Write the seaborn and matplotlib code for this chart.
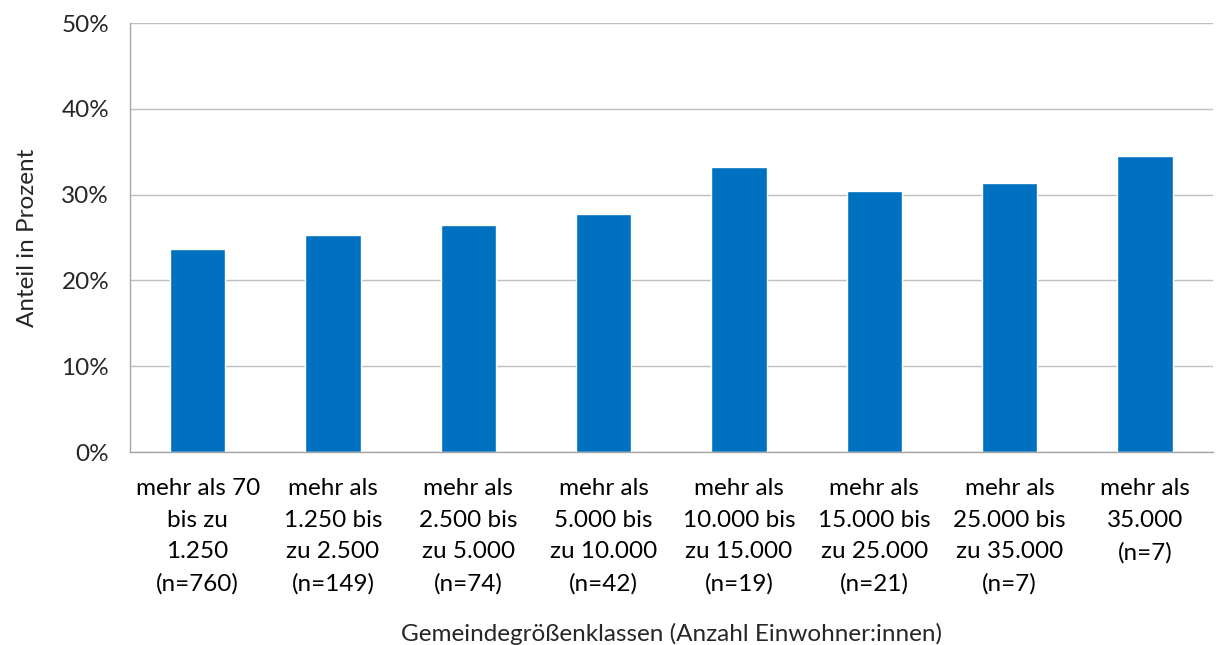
import pandas as pd
import numpy as np
import matplotlib.pyplot as plt
import seaborn as sns
from matplotlib.ticker import PercentFormatter, FixedLocator

sns.set_theme(style="white")
plt.rcParams["font.family"] = ["Lato", "DejaVu Sans"]

# Daten
klassen = [
    "mehr als 70\nbis zu\n1.250\n(n=760)",
    "mehr als\n1.250 bis\nzu 2.500\n(n=149)",
    "mehr als\n2.500 bis\nzu 5.000\n(n=74)",
    "mehr als\n5.000 bis\nzu 10.000\n(n=42)",
    "mehr als\n10.000 bis\nzu 15.000\n(n=19)",
    "mehr als\n15.000 bis\nzu 25.000\n(n=21)",
    "mehr als\n25.000 bis\nzu 35.000\n(n=7)",
    "mehr als\n35.000\n(n=7)",
]
anteil = [23.7, 25.3, 26.5, 27.7, 33.2, 30.4, 31.4, 34.5]

df = pd.DataFrame({"klasse": klassen, "anteil": anteil})

fig = plt.figure(figsize=(12.18, 6.45), dpi=100)
ax = fig.add_axes([0.1067, 0.2992, 0.889, 0.6651])

sns.barplot(data=df, x="klasse", y="anteil", color="#0070C0", width=0.41,
            saturation=1, ax=ax)

ax.set_ylim(0, 50)
ax.set_xlim(-0.5, len(klassen) - 0.5)
ax.set_yticks(np.arange(0, 51, 10))
ax.yaxis.set_major_formatter(PercentFormatter(decimals=0))
ax.yaxis.grid(True, color="#BFBFBF", linewidth=1)
ax.set_axisbelow(True)

for s in ["top", "right"]:
    ax.spines[s].set_visible(False)
for s in ["left", "bottom"]:
    ax.spines[s].set_color("#A6A6A6")
    ax.spines[s].set_linewidth(1)

fs = 17.5
ax.tick_params(axis="x", which="major", length=0, pad=19, labelsize=fs,
               colors="black")
ax.xaxis.set_minor_locator(FixedLocator(np.arange(-0.5, len(klassen), 1)))
ax.tick_params(axis="x", which="minor", length=8, color="#A6A6A6", width=1)
ax.tick_params(axis="y", length=6, color="#A6A6A6", width=1, labelsize=fs,
               pad=9)
for lab in ax.get_xticklabels():
    lab.set_linespacing(1.62)

ax.set_xlabel("Gemeindegrößenklassen (Anzahl Einwohner:innen)", fontsize=fs,
              labelpad=20)
ax.set_ylabel("Anteil in Prozent", fontsize=fs, labelpad=17)

plt.savefig("out.png", dpi=100)
